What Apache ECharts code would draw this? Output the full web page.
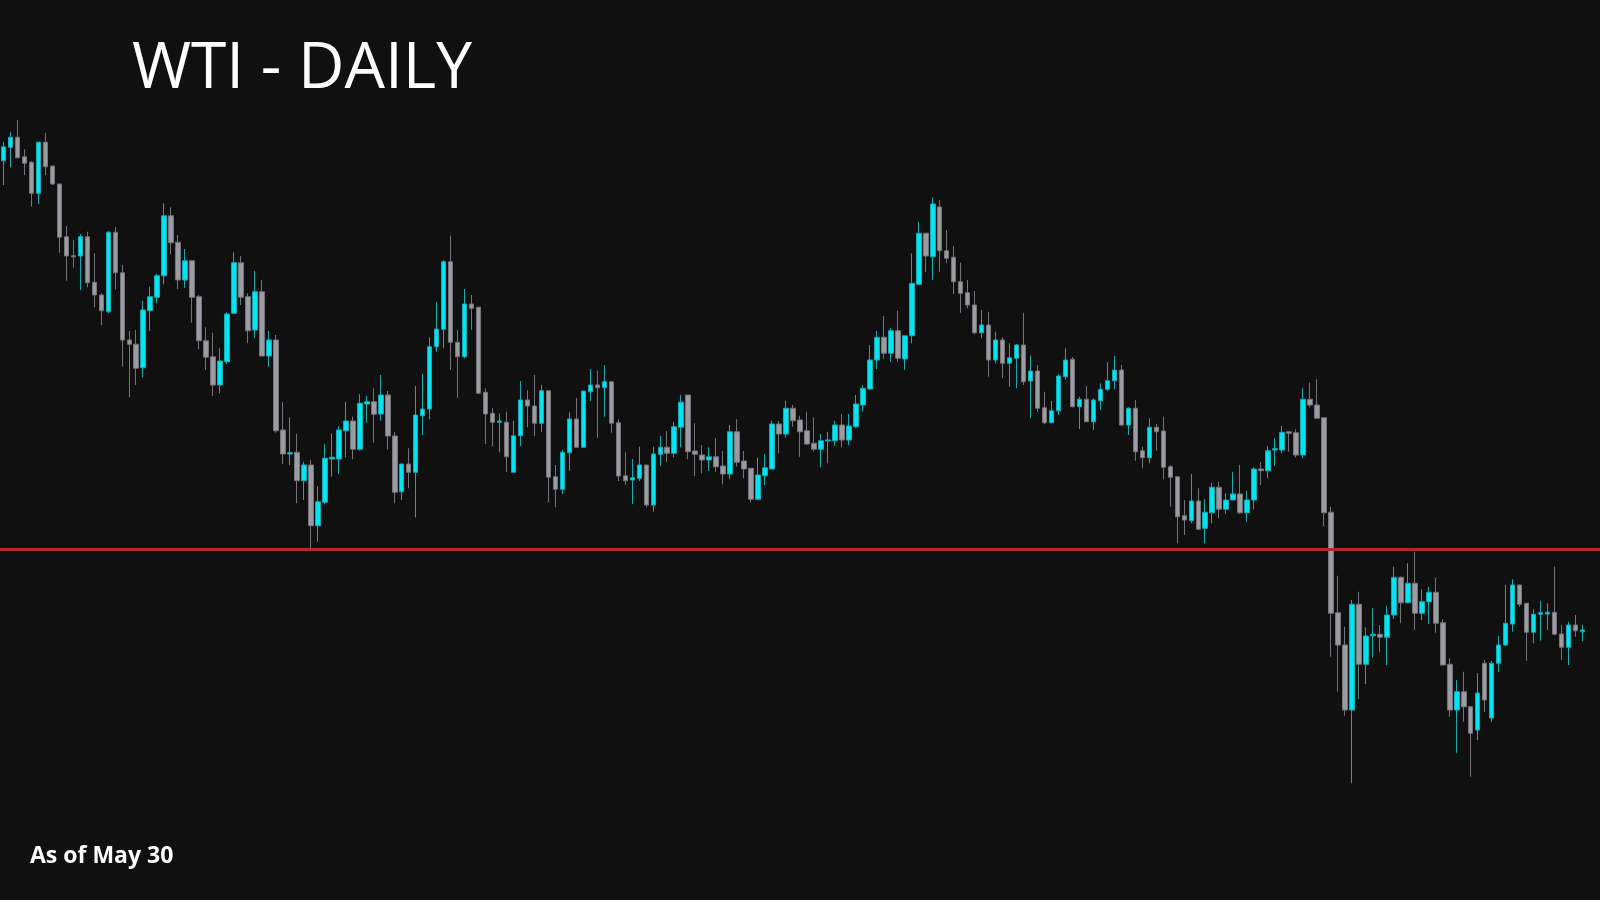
<!DOCTYPE html>
<html><head><meta charset="utf-8">
<script src="https://cdn.jsdelivr.net/npm/echarts@6/dist/echarts.min.js"></script>
<style>html,body{margin:0;padding:0;background:#101011;}#c{width:1600px;height:900px;}</style>
</head><body><div id="c"></div>
<script>
const titleText = 'WTI - DAILY';
const noteText = 'As of May 30';
const supportLevel = 65.04;

const opens = [
80.57,81.11,81.51,80.73,80.51,79.27,81.31,80.36,79.64,77.53,
76.77,76.76,77.53,75.71,75.20,74.53,77.71,76.09,73.40,73.23,
72.29,74.57,75.11,75.97,78.37,77.31,75.80,76.57,75.13,73.37,
72.73,71.60,72.53,74.47,76.49,75.13,73.80,75.33,72.76,73.40,
69.80,68.84,68.91,67.77,68.40,65.97,66.91,68.64,68.64,69.77,
70.16,69.03,70.84,70.93,70.44,71.20,69.56,67.33,68.44,68.11,
70.37,70.64,73.13,73.83,76.53,73.31,72.73,74.84,74.71,71.31,
70.47,70.11,70.11,68.11,69.57,71.00,70.76,70.07,71.37,67.93,
67.43,68.89,70.24,69.11,71.33,71.60,71.49,71.73,70.09,67.97,
67.80,67.87,68.40,66.80,68.83,69.11,68.87,69.91,71.20,68.96,
68.80,68.60,68.73,68.36,68.04,69.73,68.56,68.27,67.03,67.97,
68.24,70.04,69.64,70.67,70.20,69.77,69.27,69.03,69.36,69.37,
70.00,69.40,69.93,70.80,71.44,72.60,73.51,72.87,73.77,72.64,
73.57,75.63,77.67,76.73,78.72,76.97,76.71,75.73,75.29,74.80,
73.69,74.00,72.60,73.40,72.47,72.67,73.20,71.76,72.16,70.69,
70.09,70.57,71.93,72.63,70.73,71.03,70.13,70.97,71.43,71.77,
72.20,70.00,70.67,68.97,68.69,69.91,69.76,68.33,67.93,66.37,
66.17,66.96,65.87,66.49,67.51,66.63,67.00,67.24,66.49,67.00,
68.24,68.17,69.00,69.00,69.73,69.69,68.80,71.03,70.80,70.29,
66.51,62.49,61.20,58.60,62.83,60.43,61.57,61.63,61.51,62.40,
63.91,62.89,63.67,62.47,62.93,63.31,62.09,60.43,58.60,59.33,
58.73,57.80,60.47,58.28,60.47,61.20,62.04,63.60,62.87,61.71,
62.43,62.44,62.51,61.64,61.11,62.00,61.73
];
const closes = [
81.13,81.51,80.69,80.47,79.27,81.31,80.33,79.64,77.51,76.76,
76.73,77.53,75.69,75.20,74.57,77.71,76.09,73.40,73.23,72.27,
74.60,75.13,75.97,78.37,77.29,75.80,76.57,75.11,73.37,72.71,
71.60,72.56,74.44,76.49,75.11,73.77,75.33,72.76,73.40,69.77,
68.84,68.89,67.77,68.40,65.97,66.93,68.67,68.71,69.80,70.16,
69.03,70.87,70.93,70.43,71.20,69.56,67.31,68.44,68.11,70.40,
70.64,73.13,73.84,76.53,73.31,72.73,74.84,74.67,71.27,70.44,
70.11,70.16,68.73,69.57,71.00,70.76,70.07,71.37,67.91,67.43,
68.91,70.24,69.11,71.36,71.60,71.49,71.73,70.07,67.96,67.77,
67.89,68.40,66.80,68.84,69.11,68.87,69.93,70.91,68.93,68.83,
68.60,68.73,68.33,68.04,69.73,68.51,68.24,67.03,68.00,68.29,
70.04,69.64,70.67,70.17,69.73,69.24,69.03,69.37,69.40,70.00,
69.40,69.96,70.84,71.47,72.60,73.51,72.87,73.77,72.67,73.57,
75.67,77.67,76.76,78.84,76.97,76.67,75.73,75.27,74.80,73.69,
74.00,72.60,73.40,72.47,72.69,73.20,71.73,72.16,70.67,70.09,
70.57,71.96,72.60,70.73,71.03,70.13,71.00,71.43,71.77,72.20,
70.00,70.67,68.93,68.69,69.91,69.73,68.31,67.91,66.33,66.20,
66.96,65.83,66.51,67.51,66.63,67.00,67.24,66.49,67.00,68.24,
68.17,68.97,69.05,69.71,69.67,68.80,71.03,70.80,70.27,66.49,
62.47,61.20,58.60,62.83,60.43,61.56,61.63,61.51,62.40,63.91,
62.89,63.67,62.47,62.93,63.31,62.07,60.40,58.60,59.33,58.73,
57.67,59.28,59.00,60.47,61.20,62.07,63.60,62.83,61.71,62.43,
62.49,62.51,61.63,61.11,62.00,61.77,61.80
];
const lows = [
79.60,80.31,80.67,80.00,78.73,78.84,80.00,79.60,76.89,75.77,
76.29,75.40,75.51,74.71,74.00,74.47,75.43,72.33,71.11,71.60,
71.91,73.76,74.87,75.63,76.83,75.44,75.49,74.09,73.03,72.20,
71.16,71.27,72.44,74.47,74.80,73.27,73.47,72.76,72.33,69.69,
68.44,68.40,66.87,67.00,65.03,65.33,66.83,67.93,68.04,68.71,
68.63,68.97,70.09,69.29,70.17,69.03,66.87,67.00,67.47,66.31,
69.60,70.23,72.93,73.07,72.20,71.09,72.67,73.80,71.24,69.24,
69.13,68.91,68.13,68.11,69.16,69.91,69.56,69.73,66.89,66.71,
67.24,68.17,69.11,69.11,70.96,69.49,70.33,69.69,67.76,67.60,
66.84,67.76,66.71,66.53,68.36,68.53,68.71,69.11,68.63,67.96,
68.07,68.16,68.13,67.63,67.83,68.33,67.87,66.91,67.03,67.60,
68.24,68.87,69.49,69.93,68.73,69.20,68.93,68.31,68.47,69.17,
69.11,69.20,69.87,70.53,71.40,72.24,72.64,72.53,72.53,72.20,
73.27,75.60,76.11,75.80,76.13,76.47,75.24,74.49,74.67,73.63,
73.47,71.93,72.47,71.87,71.53,71.47,71.60,70.27,70.53,70.03,
70.07,70.40,71.83,70.71,69.84,70.13,69.80,70.60,71.37,71.43,
69.96,69.60,68.57,68.27,68.47,68.97,67.83,66.73,65.27,65.60,
66.07,65.80,65.27,66.07,66.27,66.44,67.00,66.44,66.13,66.63,
67.60,67.87,68.37,68.87,68.93,68.71,68.67,70.71,70.27,65.93,
60.73,59.33,58.37,55.67,59.04,59.64,60.71,60.91,60.40,62.24,
62.07,62.89,61.80,62.20,62.04,61.69,60.40,58.33,56.89,58.13,
55.93,57.40,58.52,58.12,60.13,61.16,61.73,62.73,60.57,61.27,
61.37,61.80,61.60,60.60,60.40,61.53,61.36
];
const highs = [
81.33,81.73,82.20,81.03,80.56,81.32,81.69,80.36,79.64,77.96,
77.40,77.64,77.73,76.87,75.27,77.75,77.91,76.40,73.76,73.80,
74.97,75.53,76.04,78.87,78.71,77.60,77.04,76.57,75.20,73.91,
73.69,73.07,74.51,76.91,76.76,75.27,76.16,75.80,73.76,73.60,
70.91,70.31,69.64,68.53,68.60,67.56,69.23,69.67,69.96,70.93,
70.33,71.23,71.16,71.47,72.00,71.36,69.73,68.44,69.07,71.56,
72.04,73.51,74.93,76.60,77.57,73.80,75.44,75.20,74.71,71.47,
70.67,70.47,70.53,70.17,71.76,71.40,72.00,71.60,71.37,68.40,
69.00,70.51,71.09,71.36,72.24,72.17,72.40,71.73,70.23,68.91,
68.64,69.13,68.40,69.13,69.56,69.76,70.13,71.20,71.20,70.07,
69.20,69.11,69.47,68.96,70.00,70.23,68.96,68.27,68.69,68.84,
70.17,70.16,70.97,70.80,70.37,70.53,70.31,69.63,69.73,70.17,
70.44,70.44,71.20,71.60,73.20,73.76,74.36,73.89,74.57,73.57,
76.87,78.13,77.67,79.11,79.00,77.80,77.16,76.49,75.80,75.36,
74.60,74.53,73.73,73.51,73.27,73.24,74.49,72.77,72.40,71.33,
70.96,72.03,73.07,72.72,71.13,71.56,71.07,71.67,72.51,72.76,
72.40,70.71,71.00,69.13,70.27,70.04,70.33,68.40,67.93,67.00,
68.04,67.47,67.03,67.69,67.73,67.27,68.13,68.40,67.37,68.31,
68.51,69.16,69.47,69.97,69.73,69.83,71.47,71.69,71.83,70.29,
66.73,63.97,61.93,63.00,63.33,61.91,62.67,62.00,62.77,64.33,
63.93,64.47,64.93,63.43,63.53,63.91,62.23,60.67,59.80,60.13,
58.73,60.08,60.60,60.56,61.56,63.60,63.83,63.60,62.87,62.63,
62.97,62.87,64.33,62.00,62.13,62.40,62.00
];

const candles = opens.map((o, i) => [o, closes[i], lows[i], highs[i]]);
// two empty trailing slots so the chart area reaches the right edge
const categories = [];
for (let i = 0; i < opens.length + 2; i++) categories.push('d' + (i + 1));

const chart = echarts.init(document.getElementById('c'), null, {renderer: 'canvas'});
chart.setOption({
  backgroundColor: '#101011',
  animation: false,
  grid: {left: -1.5, top: 0, width: categories.length * 7.01, height: 900},
  xAxis: {type: 'category', data: categories, show: false, boundaryGap: true},
  yAxis: {type: 'value', min: 51, max: 87, show: false, splitLine: {show: false}},
  series: [{
    type: 'candlestick',
    data: candles,
    barWidth: 5,
    itemStyle: {
      color: '#00e5f4', color0: '#9b9ba3',
      borderColor: '#14aab4', borderColor0: '#74747a',
      borderWidth: 1
    },
    markLine: {
      symbol: 'none', silent: true, animation: false,
      label: {show: false},
      lineStyle: {color: '#b5262f', width: 3, type: 'solid'},
      data: [{yAxis: supportLevel}]
    }
  }],
  graphic: [
    {type: 'text', x: 132, y: 70,
     style: {text: titleText, font: '64px "Open Sans"', fill: '#ffffff',
             align: 'left', verticalAlign: 'middle', textAlign: 'left', textVerticalAlign: 'middle'}},
    {type: 'text', x: 30, y: 856,
     style: {text: noteText, font: 'bold 23px "Open Sans"', fill: '#ffffff',
             align: 'left', verticalAlign: 'middle', textAlign: 'left', textVerticalAlign: 'middle'}}
  ]
});
</script>
</body></html>
